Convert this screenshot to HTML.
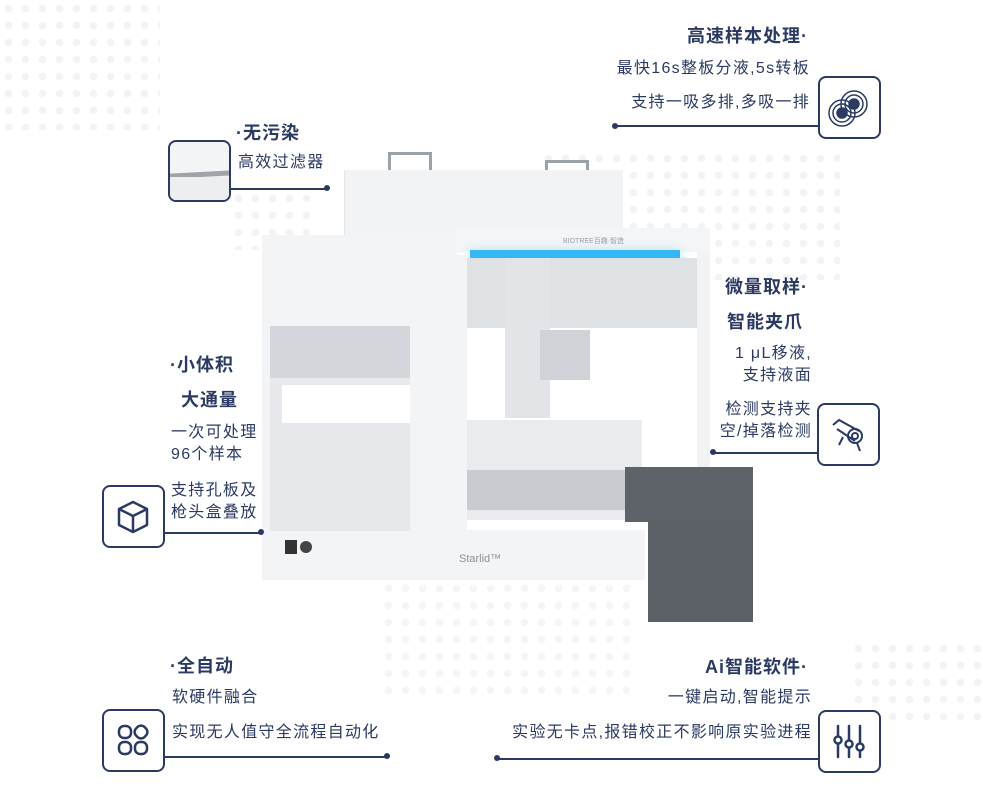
<!DOCTYPE html>
<html><head><meta charset="utf-8"><style>
body{margin:0;width:983px;height:800px;background:#fff;position:relative;overflow:hidden;font-family:"Liberation Sans","Noto Sans CJK SC",sans-serif;color:#2b3a63}
.a{position:absolute}
.t{position:absolute;font-size:18px;font-weight:bold;white-space:nowrap;letter-spacing:1px}
.b{position:absolute;font-size:16px;white-space:nowrap;letter-spacing:1.3px;line-height:22px}
.r{text-align:right}
.ln{position:absolute;height:1.5px;background:#2b3a63}
.dot{position:absolute;width:6px;height:6px;border-radius:50%;background:#2b3a63}
.ic{position:absolute;width:60px;height:60px;border:2px solid #2b3a63;border-radius:8px;background:#fff;box-sizing:border-box}
.dots{position:absolute;background-image:radial-gradient(circle,#f2f3f5 3.5px,transparent 4px);background-size:17px 17px}
</style></head><body>
<div class="dots" style="left:0;top:0;width:160px;height:130px"></div>
<div class="dots" style="left:540px;top:150px;width:300px;height:130px"></div>
<div class="dots" style="left:380px;top:580px;width:250px;height:120px;opacity:.8"></div>
<div class="dots" style="left:850px;top:640px;width:133px;height:80px"></div>
<div class="dots" style="left:230px;top:190px;width:80px;height:60px"></div>

<!-- machine -->
<div class="a" style="left:388px;top:152px;width:44px;height:22px;border:3px solid #9aa2aa;border-bottom:none;box-sizing:border-box"></div>
<div class="a" style="left:545px;top:160px;width:44px;height:16px;border:3px solid #9aa2aa;border-bottom:none;box-sizing:border-box"></div>
<div class="a" style="left:344px;top:170px;width:278px;height:66px;background:#f1f3f5;border-left:1px solid #e2e5e8"></div>
<div class="a" style="left:262px;top:235px;width:195px;height:345px;background:#f3f4f6"></div>
<div class="a" style="left:270px;top:326px;width:140px;height:205px;background:#e6e8eb"></div>
<div class="a" style="left:270px;top:326px;width:140px;height:52px;background:#d3d6da"></div>
<div class="a" style="left:282px;top:385px;width:128px;height:38px;background:#fff"></div>
<div class="a" style="left:455px;top:228px;width:255px;height:24px;background:#f4f5f7"></div>
<div class="a" style="left:470px;top:250px;width:210px;height:8px;background:#36b6f4;box-shadow:0 3px 12px #7fd2ff"></div>
<div class="a" style="left:455px;top:255px;width:12px;height:285px;background:#f3f4f6"></div>
<div class="a" style="left:697px;top:252px;width:13px;height:215px;background:#f2f3f5"></div>
<div class="a" style="left:467px;top:258px;width:230px;height:70px;background:#dfe2e5"></div>
<div class="a" style="left:505px;top:258px;width:45px;height:160px;background:#e2e4e7"></div>
<div class="a" style="left:540px;top:330px;width:50px;height:50px;background:#cfd3d7"></div>
<div class="a" style="left:467px;top:420px;width:175px;height:100px;background:#e9ebee"></div>
<div class="a" style="left:467px;top:470px;width:180px;height:40px;background:#b9bec3;opacity:.7"></div>
<div class="a" style="left:455px;top:530px;width:190px;height:50px;background:#f3f4f6"></div>
<div class="a" style="left:625px;top:467px;width:128px;height:55px;background:#5d6368"></div>
<div class="a" style="left:648px;top:520px;width:105px;height:102px;background:#5a6065"></div>
<div class="a" style="left:285px;top:540px;width:12px;height:14px;background:#333"></div>
<div class="a" style="left:300px;top:541px;width:12px;height:12px;border-radius:50%;background:#444"></div>
<div class="a" style="left:459px;top:553px;font-size:11px;color:#8a9097">Starlid™</div>
<div class="a" style="left:563px;top:236px;font-size:7px;color:#9aa0a6">BIOTREE百趣·智造</div>

<!-- top right -->
<div class="t" style="right:175px;top:22px">高速样本处理·</div>
<div class="b r" style="right:173px;top:58px">最快16s整板分液,5s转板</div>
<div class="b r" style="right:173px;top:92px">支持一吸多排,多吸一排</div>
<div class="ln" style="left:615px;top:125px;width:205px"></div><div class="dot" style="left:612px;top:123px"></div>
<div class="ic" style="left:818px;top:76px;width:63px;height:63px"><svg width="59" height="59" viewBox="0 0 59 59" fill="none" stroke="#2b3a63" stroke-width="1.5"><circle cx="22" cy="35" r="13"/><circle cx="22" cy="35" r="9"/><circle cx="34" cy="26" r="13"/><circle cx="34" cy="26" r="9"/><circle cx="22" cy="35" r="5" fill="#2b3a63"/><circle cx="34" cy="26" r="5" fill="#2b3a63"/></svg></div>

<!-- filter -->
<div class="t" style="left:236px;top:119px">·无污染</div>
<div class="b" style="left:238px;top:152px">高效过滤器</div>
<div class="ln" style="left:230px;top:188px;width:96px"></div><div class="dot" style="left:324px;top:185px"></div>
<div class="ic" style="left:168px;top:140px;width:63px;height:62px;background:#f3f4f5;overflow:hidden"><div class="a" style="left:0;top:30px;width:60px;height:5px;background:#9ea4aa;transform:rotate(-3deg)"></div><div class="a" style="left:0;top:35px;width:60px;height:25px;background:#eceef0"></div></div>

<!-- small volume -->
<div class="t" style="left:170px;top:351px">·小体积</div>
<div class="t" style="left:181px;top:386px">大通量</div>
<div class="b" style="left:171px;top:422px">一次可处理<br>96个样本</div>
<div class="b" style="left:171px;top:480px">支持孔板及<br>枪头盒叠放</div>
<div class="ln" style="left:164px;top:532px;width:96px"></div><div class="dot" style="left:258px;top:529px"></div>
<div class="ic" style="left:102px;top:485px;width:63px;height:63px"><svg width="59" height="59" viewBox="0 0 59 59" fill="none" stroke="#2b3a63" stroke-width="2.5" stroke-linejoin="round"><path d="M29 15 L43 22 L43 38 L29 45 L15 38 L15 22 Z M15 22 L29 29 L43 22 M29 29 L29 45"/></svg></div>

<!-- micro -->
<div class="t" style="right:175px;top:273px">微量取样·</div>
<div class="t" style="right:180px;top:308px">智能夹爪</div>
<div class="b r" style="right:171px;top:343px">1 μL移液,<br>支持液面</div>
<div class="b r" style="right:171px;top:399px">检测支持夹<br>空/掉落检测</div>
<div class="ln" style="left:712px;top:452px;width:108px"></div><div class="dot" style="left:710px;top:449px"></div>
<div class="ic" style="left:817px;top:403px;width:63px;height:63px"><svg width="59" height="59" viewBox="0 0 59 59" fill="none" stroke="#2b3a63" stroke-width="2"><path d="M14 20 L20 15 L40 26 M18 24 L36 36"/><circle cx="36" cy="31" r="7"/><circle cx="36" cy="31" r="3"/><path d="M20 40 L24 32 M38 38 L41 46"/></svg></div>

<!-- auto -->
<div class="t" style="left:170px;top:652px">·全自动</div>
<div class="b" style="left:172px;top:687px">软硬件融合</div>
<div class="b" style="left:172px;top:722px">实现无人值守全流程自动化</div>
<div class="ln" style="left:164px;top:756px;width:224px"></div><div class="dot" style="left:384px;top:753px"></div>
<div class="ic" style="left:102px;top:709px;width:63px;height:63px"><svg width="59" height="59" viewBox="0 0 59 59" fill="none" stroke="#2b3a63" stroke-width="2.5"><rect x="15" y="15" width="12" height="12" rx="5"/><rect x="31" y="15" width="12" height="12" rx="5" transform="rotate(45 37 21)"/><rect x="15" y="31" width="12" height="12" rx="5"/><rect x="31" y="31" width="12" height="12" rx="5"/></svg></div>

<!-- ai -->
<div class="t" style="right:175px;top:653px">Ai智能软件·</div>
<div class="b r" style="right:171px;top:687px">一键启动,智能提示</div>
<div class="b r" style="right:171px;top:722px">实验无卡点,报错校正不影响原实验进程</div>
<div class="ln" style="left:497px;top:758px;width:322px"></div><div class="dot" style="left:494px;top:755px"></div>
<div class="ic" style="left:818px;top:710px;width:63px;height:63px"><svg width="59" height="59" viewBox="0 0 59 59" fill="none" stroke="#2b3a63" stroke-width="2.5" stroke-linecap="round"><path d="M18 14 V24 M18 32 V45 M29 14 V28 M29 36 V45 M40 14 V31 M40 39 V45"/><circle cx="18" cy="28" r="3.5"/><circle cx="29" cy="32" r="3.5"/><circle cx="40" cy="35" r="3.5"/></svg></div>
</body></html>
